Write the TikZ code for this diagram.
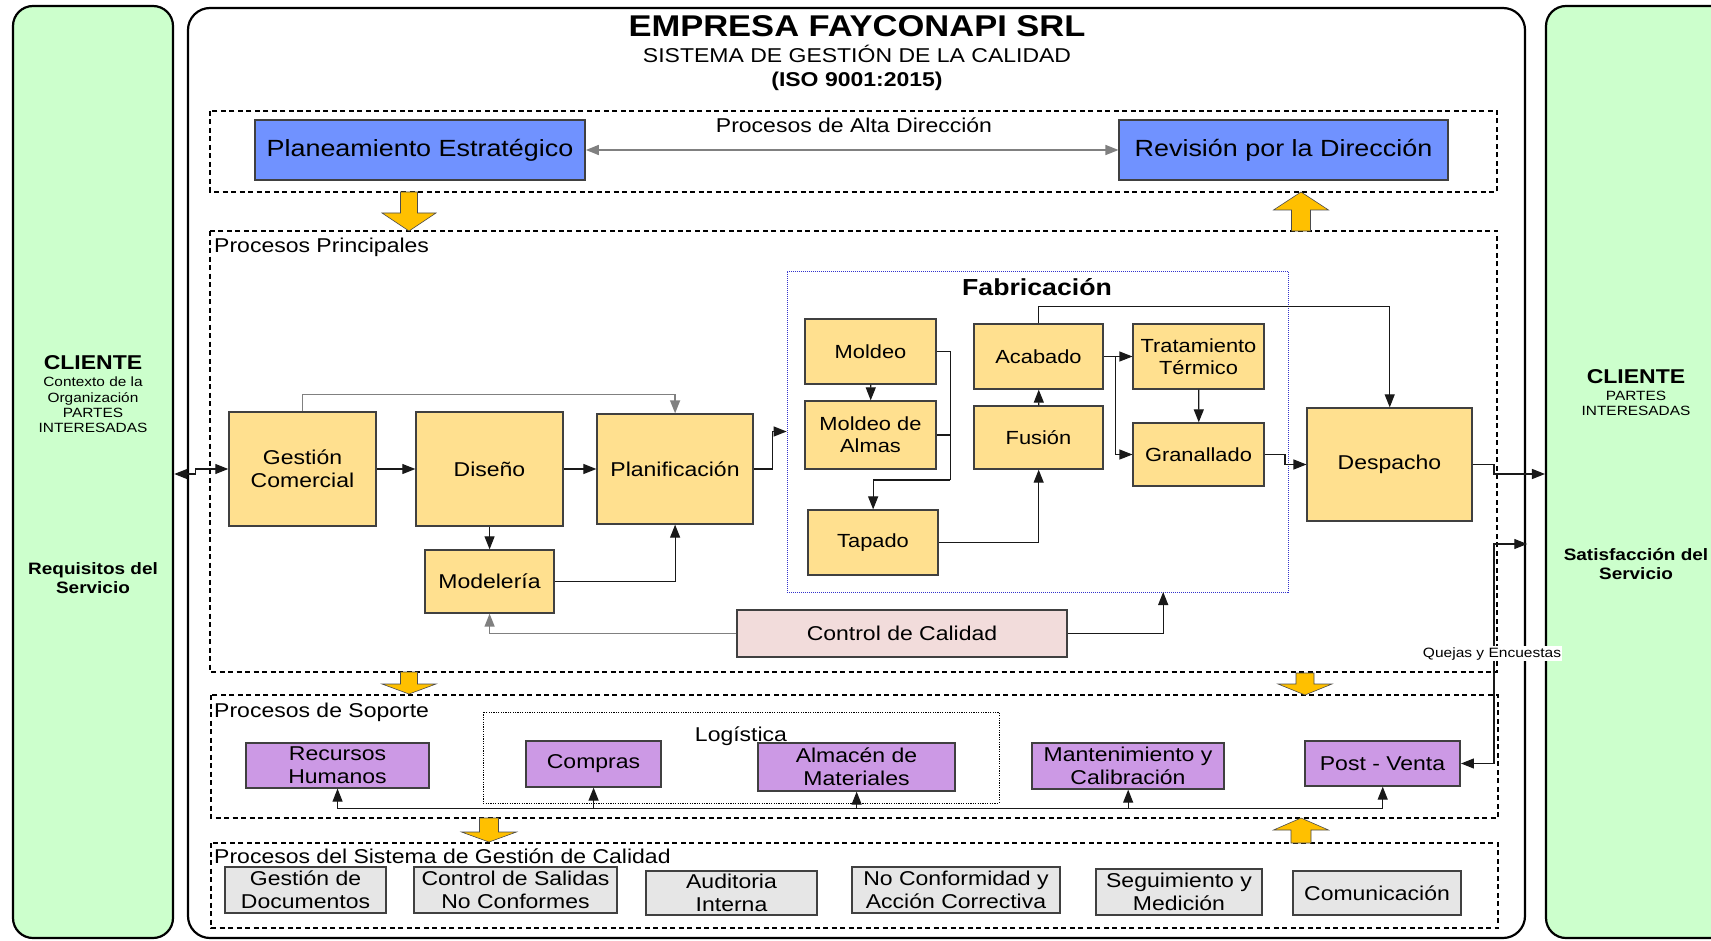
\documentclass[tikz,border=0pt]{standalone}
\usepackage{fontspec}
\setmainfont{Liberation Sans}
\usetikzlibrary{arrows.meta}
\definecolor{cgreen}{HTML}{CCFFCC}
\definecolor{cblue}{HTML}{7092FF}
\definecolor{cyel}{HTML}{FFE08F}
\definecolor{cpink}{HTML}{F2DCDB}
\definecolor{cpurp}{HTML}{CC99E5}
\definecolor{cgrayf}{HTML}{E6E6E6}
\definecolor{carrow}{HTML}{FFC000}
\definecolor{cborder}{HTML}{404040}
\definecolor{cfab}{HTML}{3333CC}
\definecolor{cgline}{HTML}{808080}
\tikzset{
  basebox/.style 2 args={inner sep=0pt, minimum width={#1*0.869565pt}, minimum height={#2*1pt}, align=center, font=\fontsize{20}{23}\selectfont, line width=1.3pt, draw=cborder},
  ybox/.style 2 args={basebox={#1}{#2}, fill=cyel},
  fbox/.style 2 args={basebox={#1}{#2}, fill=cyel, font=\fontsize{19}{22}\selectfont},
  bbox/.style 2 args={basebox={#1}{#2}, fill=cblue, font=\fontsize{23.4}{27}\selectfont},
  pbox/.style 2 args={basebox={#1}{#2}, fill=cpurp},
  gbox/.style 2 args={basebox={#1}{#2}, fill=cgrayf},
  kbox/.style 2 args={basebox={#1}{#2}, fill=cpink},
  clibox/.style 2 args={inner sep=0pt, minimum width={#1*0.869565pt}, minimum height={#2*1pt}, draw=black, line width=2.2pt, fill=cgreen, rounded corners=20pt},
  dbox/.style={draw=black, line width=2.2pt, dash pattern=on 5pt off 3.5pt},
  conn/.style={draw=black!90, line width=1.2pt},
  gconn/.style={draw=cgline, line width=1.4pt},
  arr/.style={-{Triangle[length=13pt,width=10pt]}},
  barr/.style={{Triangle[length=13pt,width=10pt]}-{Triangle[length=13pt,width=10pt]}},
  yarrow/.style={fill=carrow, draw=black!70, line width=0.6pt},
  lbl/.style={inner sep=0pt, font=\fontsize{20}{23}\selectfont},
  small/.style={inner sep=0pt, font=\fontsize{13.4}{15.5}\selectfont},
}
\begin{document}
\begin{tikzpicture}[x=0.869565pt, y=-1pt, xscale=1.15, transform shape]
\useasboundingbox (0,0) rectangle (1711,941);
\fill[white] (0,0) rectangle (1711,941);
% client columns
\node[clibox={160}{932}] (lcli) at (93,472) {};
\node[clibox={194}{932}] (rcli) at (1643,472) {};
% main frame
\draw[line width=2.2pt, rounded corners=22pt] (188,8) rectangle (1525,938);
% titles
\node[anchor=base, inner sep=0pt, font=\bfseries\fontsize{30}{34}\selectfont] (title) at (857,36.7) {EMPRESA FAYCONAPI SRL};
\node[anchor=base, lbl] (sub) at (857,63) {SISTEMA DE GESTIÓN DE LA CALIDAD};
\node[anchor=base, lbl, font=\bfseries\fontsize{20}{23}\selectfont] (iso) at (857,87) {(ISO 9001:2015)};
% dashed groups
\draw[dbox] (210,111) rectangle (1497,192);
\draw[dbox] (210,231) rectangle (1497,672);
\draw[dbox] (211,695) rectangle (1498,818);
\draw[dbox] (211,843) rectangle (1498,928);
\draw[draw=black, line width=0.8pt, dash pattern=on 1.2pt off 1.2pt] (483,712) rectangle (999,803);
% group labels
\node[anchor=base, lbl] (lalta) at (854,133) {Procesos de Alta Dirección};
\node[anchor=base west, lbl] (lprin) at (214,252) {Procesos Principales};
\node[anchor=base west, lbl] (lsop) at (214,717) {Procesos de Soporte};
\node[anchor=base, lbl] (llog) at (741,741) {Logística};
\node[anchor=base west, lbl] (lsgc) at (214,863) {Procesos del Sistema de Gestión de Calidad};
% alta direccion
\node[bbox={330}{60}] (pe) at (420,150) {Planeamiento Estratégico};
\node[bbox={329}{60}] (rd) at (1283.5,150) {Revisión por la Dirección};
\draw[gconn,barr] (pe) -- (rd);
% fabricacion frame
\node[draw=cfab, line width=0.8pt, dash pattern=on 1pt off 1pt, inner sep=0pt, minimum width={501*0.869565pt}, minimum height=321pt] (fab) at (1037.5,431.5) {};
\node[anchor=base, inner sep=0pt, font=\bfseries\fontsize{23.2}{26}\selectfont] (fabt) at (1037,295) {Fabricación};
% main processes
\node[ybox={147}{114}] (gc) at (302.5,469) {Gestión\\Comercial};
\node[ybox={147}{114}] (dis) at (489.5,469) {Diseño};
\node[ybox={129}{63}] (mod) at (489.5,581.5) {Modelería};
\node[ybox={156}{110}] (pla) at (675,469) {Planificación};
\node[fbox={131}{65}] (mol) at (870.5,351.5) {Moldeo};
\node[fbox={131}{68}] (alm) at (870.5,435) {Moldeo de\\Almas};
\node[fbox={130}{65}] (tap) at (873,542.5) {Tapado};
\node[fbox={129}{65}] (aca) at (1038.5,356.5) {Acabado};
\node[fbox={129}{63}] (fus) at (1038.5,437.5) {Fusión};
\node[fbox={131}{65}] (tt) at (1198.5,356.5) {Tratamiento\\Térmico};
\node[fbox={131}{63}] (gra) at (1198.5,454.5) {Granallado};
\node[ybox={165}{113}] (des) at (1389.5,464.5) {Despacho};
\node[kbox={330}{47}] (cc) at (902,633.5) {Control de Calidad};
% support
\node[pbox={183}{45}] (rh) at (337.5,765.5) {Recursos\\Humanos};
\node[pbox={135}{46}] (com) at (593.5,764) {Compras};
\node[pbox={197}{48}] (alm2) at (856.5,767) {Almacén de\\Materiales};
\node[pbox={192}{46}] (man) at (1128,766) {Mantenimiento y\\Calibración};
\node[pbox={155}{45}] (pv) at (1382.5,763.5) {Post - Venta};
% sgc
\node[gbox={161}{46}] (gd) at (305.5,890) {Gestión de\\Documentos};
\node[gbox={203}{46}] (cs) at (515.5,890) {Control de Salidas\\No Conformes};
\node[gbox={171}{44}] (ai) at (731.5,893) {Auditoria\\Interna};
\node[gbox={208}{46}] (nc) at (956,890) {No Conformidad y\\Acción Correctiva};
\node[gbox={166}{46}] (sm) at (1179,892) {Seguimiento y\\Medición};
\node[gbox={168}{44}] (cm) at (1377,893) {Comunicación};
% connectors
\draw[conn,barr] ([yshift=-2pt]lcli.east) -- ++(21,0) |- (gc.west);
\draw[conn,arr] (gc) -- (dis);
\draw[conn,arr] (dis) -- (pla);
\draw[gconn,arr] (gc.north) -- ++(0,-17) -| (pla.north);
\draw[conn,arr] (dis.south) -- (mod.north);
\draw[conn,arr] (mod.east) -| (pla.south);
\draw[conn,arr] (pla.east) -- ++(19,0) |- (fab.west);
\draw[conn,arr] (mol) -- (alm);
\coordinate (mj) at (950,480);
\draw[conn] (mol.east) -| (mj);
\draw[conn] (alm.east) -- (alm.east -| mj);
\draw[conn,arr] (mj) -| (tap.north);
\draw[conn,arr] (tap.east) -| (fus.south);
\draw[conn,arr] (fus) -- (aca);
\draw[conn,arr] (aca.east) -- (tt.west);
\coordinate (aj) at (1115,356.5);
\draw[conn,arr] (aj) |- (gra.west);
\draw[conn,arr] (tt) -- (gra);
\draw[conn,arr] (aca.north) -- ++(0,-17) -| (des.north);
\draw[conn,arr] (gra.east) -- ++(20,0) |- (des.west);
\draw[conn,arr] (des.east) -- ++(21,0) |- ([yshift=-2pt]rcli.west);
\draw[gconn,arr] (cc.west) -| (mod.south);
\coordinate (fq) at (1163,592);
\draw[conn,arr] (cc.east) -| (fq);
\coordinate (qe) at (1527,544);
\draw[conn,barr] (pv.east) -- ++(33,0) |- (qe);
\node[anchor=base, fill=white, inner sep=1pt, font=\fontsize{13.5}{15}\selectfont] (qlbl) at (1492,657) {Quejas y Encuestas};
\coordinate (busl) at (337.5,808.5);
\coordinate (busr) at (1382.5,808.5);
\draw[conn] (busl) -- (busr);
\draw[conn,arr] (busl) -- (rh.south);
\draw[conn,arr] (com.south |- busl) -- (com.south);
\draw[conn,arr] (alm2.south |- busl) -- (alm2.south);
\draw[conn,arr] (man.south |- busl) -- (man.south);
\draw[conn,arr] (busr) -- (pv.south);
% block arrows
\draw[yarrow] (400.5,192) -- (417.5,192) -- (417.5,213) -- (436,213) -- (409,231) -- (382,213) -- (400.5,213) -- cycle;
\draw[yarrow] (1291.5,231) -- (1310.5,231) -- (1310.5,210) -- (1328.5,210) -- (1301,192) -- (1273.5,210) -- (1291.5,210) -- cycle;
\draw[yarrow] (400.5,672) -- (417.5,672) -- (417.5,684) -- (436,684) -- (409,694) -- (382,684) -- (400.5,684) -- cycle;
\draw[yarrow] (1296,673) -- (1314,673) -- (1314,684) -- (1332,684) -- (1305,695) -- (1278,684) -- (1296,684) -- cycle;
\draw[yarrow] (479.5,818) -- (498.5,818) -- (498.5,832) -- (516.5,832) -- (489,842) -- (461.5,832) -- (479.5,832) -- cycle;
\draw[yarrow] (1291,843) -- (1311,843) -- (1311,830) -- (1328.5,830) -- (1301,818) -- (1273.5,830) -- (1291,830) -- cycle;
% client texts
\node[anchor=base, inner sep=0pt, font=\bfseries\fontsize{20}{23}\selectfont] (lc1) at (93,369) {CLIENTE};
\node[anchor=base, small] (lc2) at (93,386) {Contexto de la};
\node[anchor=base, small] (lc3) at (93,402) {Organización};
\node[anchor=base, small] (lc4) at (93,417) {PARTES};
\node[anchor=base, small] (lc5) at (93,432) {INTERESADAS};
\node[anchor=base, inner sep=0pt, font=\bfseries\fontsize{16.5}{19}\selectfont] (lc6) at (93,574) {Requisitos del};
\node[anchor=base, inner sep=0pt, font=\bfseries\fontsize{16.5}{19}\selectfont] (lc7) at (93,593) {Servicio};
\node[anchor=base, inner sep=0pt, font=\bfseries\fontsize{20}{23}\selectfont] (rc1) at (1636,383) {CLIENTE};
\node[anchor=base, small] (rc2) at (1636,400) {PARTES};
\node[anchor=base, small] (rc3) at (1636,415) {INTERESADAS};
\node[anchor=base, inner sep=0pt, font=\bfseries\fontsize{16.5}{19}\selectfont] (rc4) at (1636,560) {Satisfacción del};
\node[anchor=base, inner sep=0pt, font=\bfseries\fontsize{16.5}{19}\selectfont] (rc5) at (1636,579) {Servicio};
\end{tikzpicture}
\end{document}
